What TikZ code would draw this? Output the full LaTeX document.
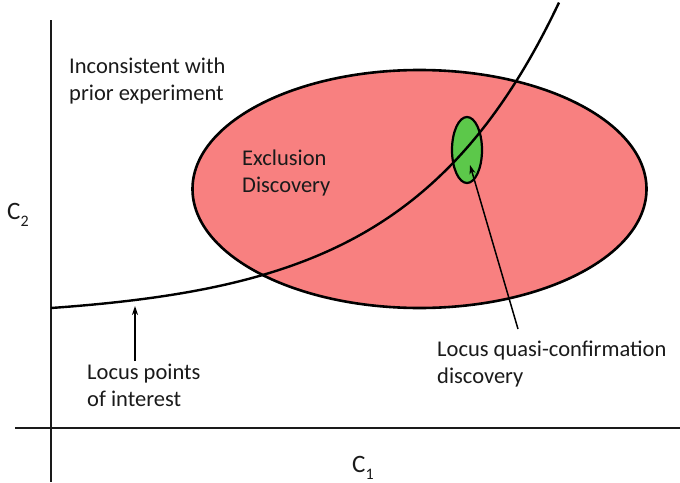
\documentclass[tikz,border=0pt]{standalone}
\usepackage{fontspec}
\setmainfont{Carlito}
\usetikzlibrary{shapes.geometric,arrows.meta}
\definecolor{exred}{HTML}{F88080}
\definecolor{qgreen}{HTML}{5CC84A}
\definecolor{ink}{HTML}{1A1A1A}
\newcommand{\axsub}[1]{\raisebox{-0.28em}{\fontsize{16}{16}\selectfont #1}}
\tikzset{
  axis/.style={draw=ink, line width=2pt},
  region/.style={ellipse, draw=black, line width=2.6pt, inner sep=0pt},
  locus/.style={draw=black, line width=2.4pt},
  pointer/.style={draw=black, line width=1.5pt, -{Stealth[length=9pt,width=6pt]}},
  lbl/.style={inner sep=0pt, anchor=base west, align=left, text=ink,
    font=\fontsize{22.5}{27}\selectfont},
  axlbl/.style={inner sep=0pt, anchor=base west, text=ink,
    font=\fontsize{25}{30}\selectfont}
}
\begin{document}
\begin{tikzpicture}[x=1pt,y=-1pt]
\useasboundingbox (0,0) rectangle (680,482);
% axes
\coordinate (ytop) at (51,20);
\coordinate (ybot) at (51,482);
\coordinate (xl) at (15,428);
\coordinate (xr) at (680,428);
\draw[axis] (ytop) -- (ybot);
\draw[axis] (xl) -- (xr);
% regions
\node[region, fill=exred, minimum width=454pt, minimum height=238pt] (excl) at (419.5,189) {};
\node[region, fill=qgreen, minimum width=30pt, minimum height=66pt, line width=2.2pt] (quasi) at (467,150) {};
% locus curve
\draw[locus] plot[domain=51:559, samples=120] (\x, {308 - 10.6*(exp(0.00668*(\x-51))-1)});
% labels
\node[lbl] (incons) at (69,100) {Inconsistent with\\prior experiment};
\node[lbl] (exlbl) at (242,192) {Exclusion\\Discovery};
\node[lbl] (lpoi) at (87,406) {Locus points\\of interest};
\node[lbl] (lqc) at (437,383) {Locus quasi-confirmation\\discovery};
\node[axlbl] (c2) at (7,219) {C\axsub{2}};
\node[axlbl] (c1) at (352,472) {C\axsub{1}};
% pointers
\coordinate (ptail) at (135,361);
\coordinate (phead) at (135,306);
\draw[pointer] (ptail) -- (phead);
\coordinate (qtail) at (518,329);
\coordinate (qhead) at (470,165);
\draw[pointer] (qtail) -- (qhead);
\end{tikzpicture}
\end{document}
